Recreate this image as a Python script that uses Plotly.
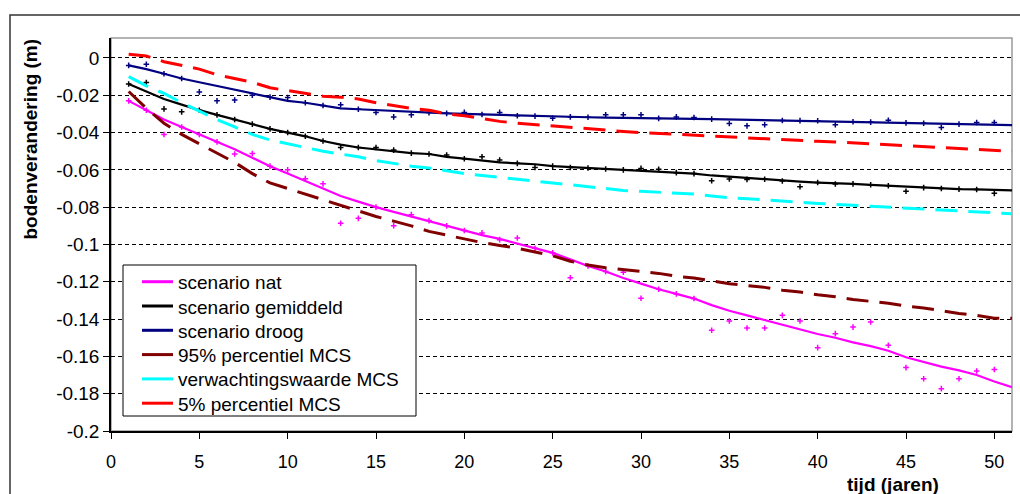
import plotly.graph_objects as go

# Years (tijd in jaren)
years = list(range(1, 52))

# Bodemverandering (m) per jaar
nat = [-0.023, -0.028, -0.033, -0.037, -0.041, -0.045, -0.049, -0.0535, -0.058, -0.062,
       -0.066, -0.070, -0.074, -0.077, -0.080, -0.0825, -0.085, -0.0875, -0.090, -0.0925,
       -0.095, -0.097, -0.0995, -0.102, -0.1045, -0.108, -0.1115, -0.1145, -0.118, -0.121,
       -0.124, -0.1265, -0.129, -0.1325, -0.1355, -0.138, -0.1405, -0.143, -0.1455, -0.148,
       -0.150, -0.1525, -0.1545, -0.157, -0.1605, -0.163, -0.1655, -0.1675, -0.170, -0.1735,
       -0.1765]
gemiddeld = [-0.014, -0.018, -0.022, -0.025, -0.028, -0.0305, -0.033, -0.0355, -0.038, -0.040,
             -0.042, -0.0445, -0.0465, -0.048, -0.049, -0.050, -0.051, -0.0515, -0.053, -0.054,
             -0.055, -0.056, -0.0565, -0.057, -0.058, -0.0585, -0.059, -0.0595, -0.060, -0.0605,
             -0.061, -0.0615, -0.062, -0.063, -0.0637, -0.0645, -0.065, -0.0658, -0.0663, -0.0668,
             -0.067, -0.0675, -0.068, -0.0685, -0.069, -0.0695, -0.070, -0.0703, -0.0705, -0.0707,
             -0.071]
droog = [-0.004, -0.006, -0.0085, -0.011, -0.013, -0.015, -0.017, -0.019, -0.021, -0.023,
         -0.024, -0.0255, -0.027, -0.0275, -0.028, -0.0285, -0.029, -0.0293, -0.0297, -0.030,
         -0.0303, -0.0306, -0.031, -0.0312, -0.0314, -0.0316, -0.0318, -0.032, -0.0322, -0.0323,
         -0.0324, -0.0325, -0.0327, -0.0328, -0.033, -0.0332, -0.0333, -0.0335, -0.0336, -0.0337,
         -0.034, -0.0342, -0.0344, -0.0346, -0.0348, -0.035, -0.0353, -0.0355, -0.0357, -0.0358,
         -0.036]
p95 = [-0.018, -0.027, -0.035, -0.041, -0.046, -0.051, -0.056, -0.062, -0.067, -0.070,
       -0.073, -0.076, -0.079, -0.082, -0.085, -0.0875, -0.090, -0.093, -0.095, -0.097,
       -0.099, -0.1005, -0.102, -0.104, -0.106, -0.109, -0.111, -0.1125, -0.1135, -0.1145,
       -0.1155, -0.117, -0.118, -0.1195, -0.121, -0.122, -0.123, -0.1245, -0.1255, -0.127,
       -0.128, -0.1295, -0.1305, -0.1315, -0.133, -0.134, -0.1355, -0.137, -0.138, -0.1395,
       -0.1395]
verwacht = [-0.010, -0.015, -0.019, -0.024, -0.0285, -0.033, -0.037, -0.041, -0.044, -0.046,
            -0.048, -0.050, -0.0515, -0.053, -0.055, -0.0565, -0.058, -0.059, -0.0605, -0.062,
            -0.063, -0.064, -0.065, -0.066, -0.067, -0.068, -0.069, -0.070, -0.071, -0.0715,
            -0.072, -0.0725, -0.073, -0.074, -0.075, -0.0755, -0.076, -0.0767, -0.0773, -0.078,
            -0.0785, -0.079, -0.0795, -0.080, -0.0805, -0.081, -0.0815, -0.082, -0.0825, -0.083,
            -0.0835]
p5 = [0.002, 0.001, -0.002, -0.004, -0.006, -0.009, -0.011, -0.013, -0.016, -0.0175,
      -0.019, -0.0205, -0.021, -0.022, -0.024, -0.0255, -0.027, -0.028, -0.030, -0.031,
      -0.0325, -0.034, -0.035, -0.0358, -0.0365, -0.037, -0.038, -0.0388, -0.0394, -0.040,
      -0.0405, -0.041, -0.0415, -0.042, -0.0425, -0.043, -0.0435, -0.044, -0.0443, -0.0447,
      -0.045, -0.0455, -0.046, -0.0465, -0.047, -0.0475, -0.048, -0.0485, -0.049, -0.0495,
      -0.050]

# Yearly scenario results (points)
pt_years = list(range(1, 51))
nat_pts = [-0.023, -0.028, -0.041, -0.037, -0.041, -0.045, -0.0515, -0.0512, -0.058, -0.060,
           -0.0647, -0.0675, -0.0886, -0.086, -0.080, -0.0899, -0.084, -0.0872, -0.090, -0.0925,
           -0.0938, -0.0974, -0.0965, -0.102, -0.1045, -0.1178, -0.1115, -0.1145, -0.1149, -0.1288,
           -0.124, -0.1265, -0.129, -0.146, -0.141, -0.1448, -0.1448, -0.138, -0.141, -0.1553,
           -0.1478, -0.1443, -0.1416, -0.154, -0.166, -0.172, -0.1773, -0.172, -0.1678, -0.167]
gem_pts = [-0.014, -0.0132, -0.0273, -0.0289, -0.028, -0.0305, -0.033, -0.0355, -0.038, -0.040,
           -0.042, -0.0445, -0.048, -0.048, -0.048, -0.0494, -0.051, -0.0515, -0.052, -0.054,
           -0.053, -0.0547, -0.0565, -0.0587, -0.058, -0.0587, -0.059, -0.0595, -0.060, -0.0592,
           -0.0597, -0.0615, -0.062, -0.0658, -0.0649, -0.0651, -0.065, -0.066, -0.069, -0.0668,
           -0.0676, -0.0675, -0.068, -0.0685, -0.0715, -0.0695, -0.070, -0.0703, -0.0705, -0.0726]
droog_pts = [-0.004, -0.0034, -0.0085, -0.011, -0.0182, -0.023, -0.0226, -0.020, -0.021, -0.0212,
             -0.024, -0.0255, -0.0251, -0.0275, -0.0292, -0.0316, -0.0305, -0.0293, -0.0297, -0.0292,
             -0.0303, -0.0292, -0.031, -0.0312, -0.0323, -0.0316, -0.0318, -0.0305, -0.0305, -0.0305,
             -0.0324, -0.0316, -0.0319, -0.0328, -0.0351, -0.0364, -0.0358, -0.0335, -0.0336, -0.0337,
             -0.0358, -0.0342, -0.0344, -0.0334, -0.0348, -0.035, -0.0373, -0.0355, -0.0346, -0.0346]

x_ticks = [0, 5, 10, 15, 20, 25, 30, 35, 40, 45, 50]
y_ticks = [0, -0.02, -0.04, -0.06, -0.08, -0.1, -0.12, -0.14, -0.16, -0.18, -0.2]
y_tick_text = ["0", "-0.02", "-0.04", "-0.06", "-0.08", "-0.1", "-0.12", "-0.14", "-0.16", "-0.18", "-0.2"]

FONT = "Liberation Sans, Arial, sans-serif"

fig = go.Figure()

# point clouds of the three scenarios
for pts, col in [(nat_pts, "#ff00ff"), (gem_pts, "#000000"), (droog_pts, "#000080")]:
    fig.add_trace(go.Scatter(
        x=pt_years, y=pts, mode="markers", showlegend=False, hoverinfo="skip",
        marker=dict(symbol="cross-thin", size=4, line=dict(color=col, width=1.5)),
    ))

series = [
    ("scenario nat", nat, "#ff00ff", "solid", 2.2),
    ("scenario gemiddeld", gemiddeld, "#000000", "solid", 2.2),
    ("scenario droog", droog, "#000080", "solid", 2.2),
    ("95% percentiel MCS", p95, "#800000", "22px,11px", 3),
    ("verwachtingswaarde MCS", verwacht, "#00ffff", "22px,11px", 3),
    ("5% percentiel MCS", p5, "#ff0000", "22px,11px", 3),
]
for name, vals, col, dash, w in series:
    fig.add_trace(go.Scatter(
        x=years, y=vals, mode="lines", name=name, showlegend=False,
        line=dict(color=col, width=w, dash=dash),
    ))

L, R, T, B = 111, 8, 38, 63
W, H = 1020, 494
pw, ph = W - L - R, H - T - B

def px_x(p):
    return (p - L) / pw

def px_y(p):
    return (H - B - p) / ph

shapes = [
    # plot-area frame (top and right edges visible in grey)
    dict(type="rect", xref="paper", yref="paper", x0=0, x1=1, y0=0, y1=1,
         line=dict(color="#9a9a9a", width=1.5), layer="below"),
    # outer chart frame
    dict(type="rect", xref="paper", yref="paper",
         x0=px_x(10), x1=px_x(1040), y0=px_y(15), y1=px_y(520),
         line=dict(color="#333333", width=1.5), layer="below"),
    # legend box
    dict(type="rect", xref="paper", yref="paper",
         x0=px_x(123), x1=px_x(416), y0=px_y(265), y1=px_y(416),
         line=dict(color="#000000", width=1), fillcolor="white", layer="above"),
]
annotations = [
    dict(text="<b>bodenverandering (m)</b>", xref="paper", yref="paper",
         x=px_x(30), y=px_y(37), xanchor="center", yanchor="top",
         textangle=-90, showarrow=False, font=dict(family=FONT, size=19)),
    dict(text="<b>tijd (jaren)</b>", xref="paper", yref="paper",
         x=px_x(893), y=px_y(484), xanchor="center", yanchor="middle",
         showarrow=False, font=dict(family=FONT, size=19)),
]

# legend entries: short solid line sample + label
row0, row_step = 281.7, 24.3
for i, (name, vals, col, dash, w) in enumerate(series):
    ry = row0 + i * row_step
    shapes.append(dict(type="line", xref="paper", yref="paper",
                       x0=px_x(142), x1=px_x(173), y0=px_y(ry), y1=px_y(ry),
                       line=dict(color=col, width=3), layer="above"))
    annotations.append(dict(text=name, xref="paper", yref="paper",
                            x=px_x(176), y=px_y(ry + 1), xanchor="left", yanchor="middle",
                            showarrow=False, font=dict(family=FONT, size=19, color="#000000")))

fig.update_layout(
    width=W, height=H,
    margin=dict(l=L, r=R, t=T, b=B),
    paper_bgcolor="white", plot_bgcolor="white",
    font=dict(family=FONT, size=18, color="#000000"),
    showlegend=False,
    xaxis=dict(
        range=[0, 51], tickvals=x_ticks, ticks="outside", ticklen=6,
        tickcolor="#000000", showline=True, linecolor="#000000", linewidth=1.5,
        showgrid=False, zeroline=False, tickfont=dict(size=18),
        ticklabelstandoff=8,
    ),
    yaxis=dict(
        range=[-0.2, 0.0107], tickvals=y_ticks, ticktext=y_tick_text,
        ticks="outside", ticklen=6, tickcolor="#000000",
        showline=True, linecolor="#000000", linewidth=1.5,
        showgrid=True, gridcolor="#000000", gridwidth=1, griddash="4px,3px",
        zeroline=False, tickfont=dict(size=19),
    ),
    shapes=shapes,
    annotations=annotations,
)

fig.write_html("out.html")
